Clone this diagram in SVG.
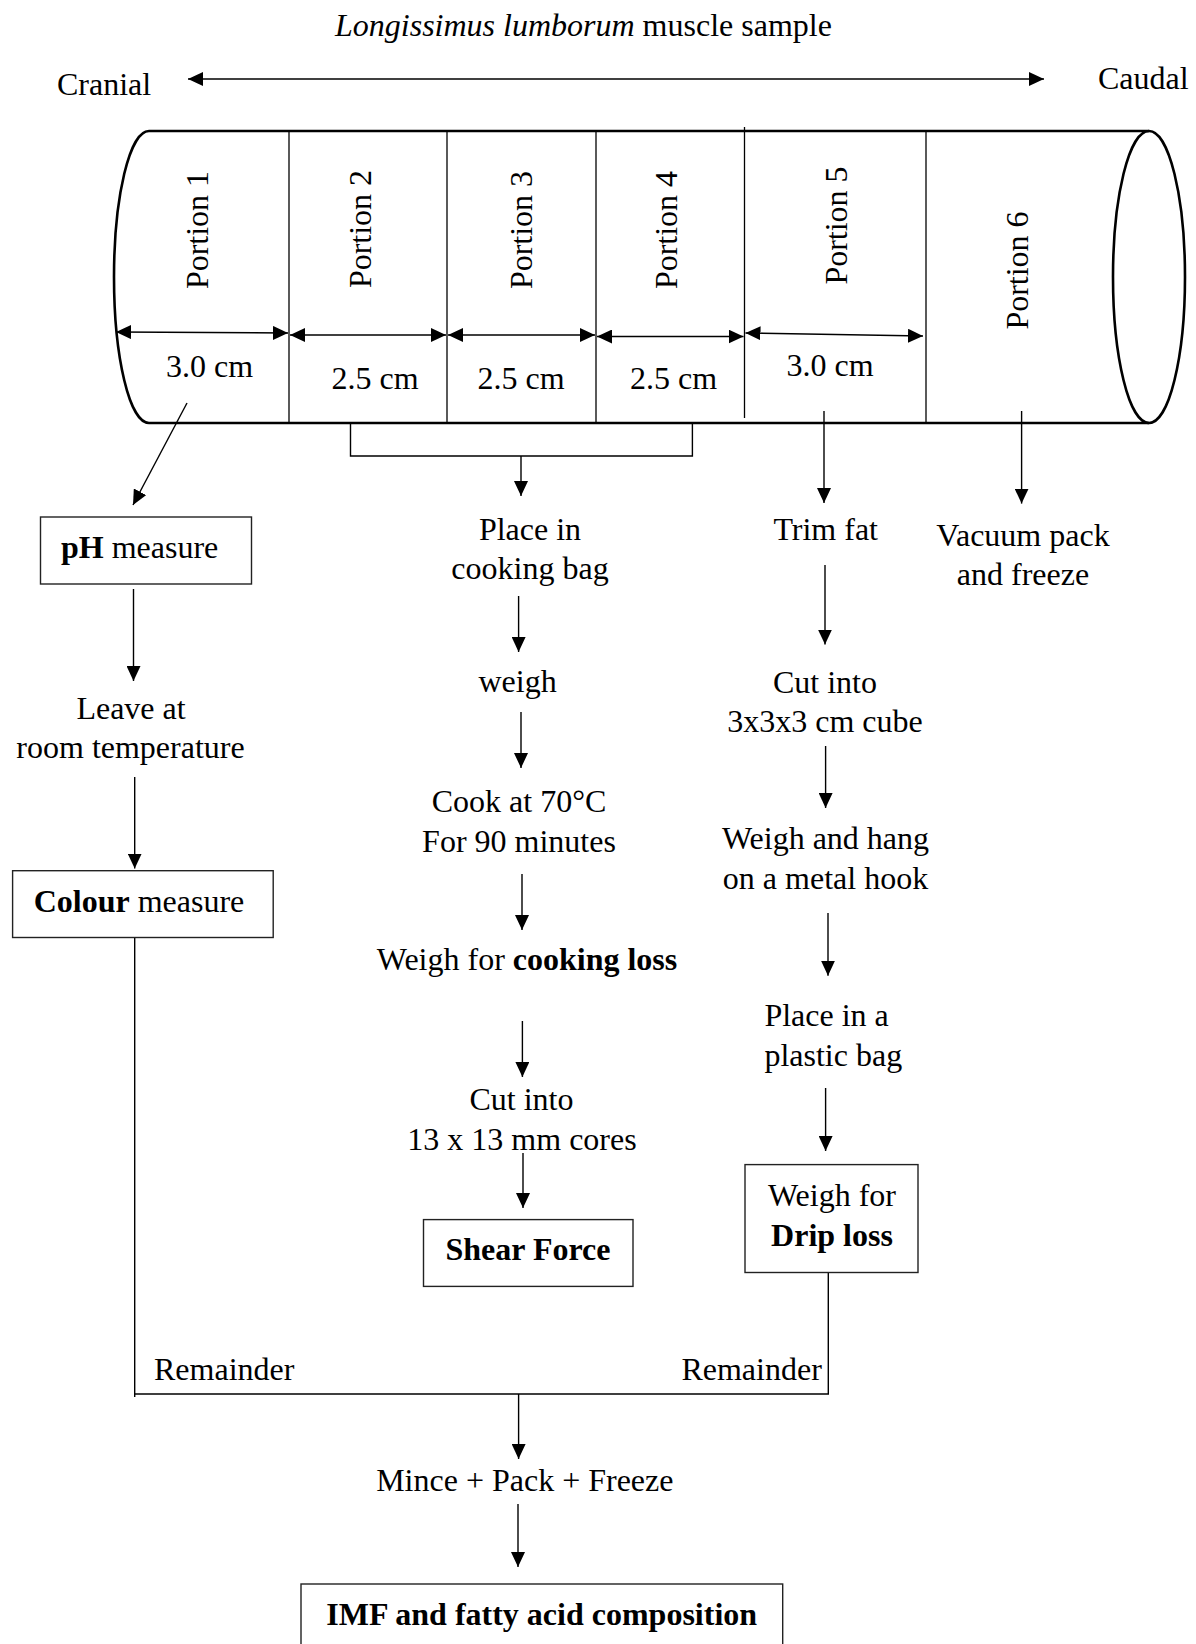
<svg xmlns="http://www.w3.org/2000/svg" width="1196" height="1644" viewBox="0 0 1196 1644">
<defs>
<style>
text{font-family:"Liberation Serif","Times New Roman",serif;font-size:32px;fill:#000}
.m{text-anchor:middle}
.e{text-anchor:end}
.b{font-weight:bold}
.i{font-style:italic}
.box{fill:#fff;stroke:#222;stroke-width:1.4}
.ln{fill:none;stroke:#000;stroke-width:1.4}
.ar{fill:none;stroke:#000;stroke-width:1.4;marker-end:url(#ah)}
.dim{fill:none;stroke:#000;stroke-width:1.6;marker-start:url(#ah);marker-end:url(#ah)}
.cyl{fill:none;stroke:#000;stroke-width:2.6}
.div{fill:none;stroke:#000;stroke-width:1.3}
</style>
<marker id="ah" markerUnits="userSpaceOnUse" viewBox="0 0 15 14" markerWidth="15" markerHeight="14" refX="15" refY="7" orient="auto-start-reverse">
<path d="M0,0 L15,7 L0,14 z" fill="#000"/>
</marker>
</defs>
<rect width="1196" height="1644" fill="#fff"/>

<g id="title">
<text x="335" y="36"><tspan class="i">Longissimus lumborum</tspan> muscle sample</text>
</g>
<g id="direction">
<text x="57" y="95">Cranial</text>
<text x="1098" y="89">Caudal</text>
<line class="dim" x1="188" y1="79" x2="1044" y2="79"/>
</g>

<g id="cylinder">
<path class="cyl" d="M1149,131 L149,131 A35,146 0 0 0 149,423 L1149,423"/>
<ellipse class="cyl" cx="1149" cy="277" rx="36" ry="146"/>
<line class="div" x1="289" y1="131" x2="289" y2="423"/>
<line class="div" x1="447" y1="131" x2="447" y2="423"/>
<line class="div" x1="596" y1="131" x2="596" y2="423"/>
<line class="div" x1="744.5" y1="127" x2="744.5" y2="418"/>
<line class="div" x1="926" y1="131" x2="926" y2="423"/>
</g>

<g id="portion1"><text class="m" transform="translate(208,230) rotate(-90)">Portion 1</text><line class="dim" x1="116" y1="332" x2="288" y2="333"/><text class="m" x="209.5" y="377">3.0 cm</text></g>
<g id="portion2"><text class="m" transform="translate(371,229) rotate(-90)">Portion 2</text><line class="dim" x1="290" y1="335" x2="446" y2="335"/><text class="m" x="375" y="389">2.5 cm</text></g>
<g id="portion3"><text class="m" transform="translate(532,230) rotate(-90)">Portion 3</text><line class="dim" x1="448" y1="335" x2="595" y2="335"/><text class="m" x="521" y="389">2.5 cm</text></g>
<g id="portion4"><text class="m" transform="translate(677,230) rotate(-90)">Portion 4</text><line class="dim" x1="597" y1="336.5" x2="743.5" y2="336.5"/><text class="m" x="673.5" y="389">2.5 cm</text></g>
<g id="portion5"><text class="m" transform="translate(846.5,225.5) rotate(-90)">Portion 5</text><line class="dim" x1="745.5" y1="333" x2="923" y2="336"/><text class="m" x="830" y="376">3.0 cm</text></g>
<g id="portion6"><text class="m" transform="translate(1027.5,270.5) rotate(-90)">Portion 6</text></g>

<g id="connectors">
<line class="ar" x1="187" y1="403" x2="133" y2="505"/>
<polyline class="ln" points="350.5,422 350.5,456 692.4,456 692.4,422"/>
<line class="ar" x1="521" y1="456" x2="521" y2="496"/>
<line class="ar" x1="824" y1="411" x2="824" y2="503"/>
<line class="ar" x1="1021.6" y1="411" x2="1021.6" y2="503.6"/>
<line class="ar" x1="133.5" y1="589" x2="133.5" y2="681"/>
<line class="ar" x1="134.7" y1="777" x2="134.7" y2="868.6"/>
<line class="ar" x1="518.6" y1="596" x2="518.6" y2="652"/>
<line class="ar" x1="521" y1="712" x2="521" y2="768"/>
<line class="ar" x1="522" y1="874" x2="522" y2="930"/>
<line class="ar" x1="522.4" y1="1021" x2="522.4" y2="1077"/>
<line class="ar" x1="523" y1="1153" x2="523" y2="1208"/>
<line class="ar" x1="825" y1="565" x2="825" y2="644.6"/>
<line class="ar" x1="825.6" y1="746" x2="825.6" y2="808"/>
<line class="ar" x1="828" y1="913" x2="828" y2="975.7"/>
<line class="ar" x1="825.6" y1="1088" x2="825.6" y2="1151"/>
<line class="ln" x1="134.7" y1="937.5" x2="134.7" y2="1397"/>
<polyline class="ln" points="134.7,1394 828.3,1394 828.3,1272.5"/>
<line class="ar" x1="518.6" y1="1394" x2="518.6" y2="1459"/>
<line class="ar" x1="518" y1="1504" x2="518" y2="1567"/>
</g>

<g id="ph"><rect class="box" x="40.5" y="517" width="211" height="67"/><text x="61" y="558"><tspan class="b">pH</tspan> measure</text></g>
<g id="leave"><text class="m" x="131" y="719">Leave at</text><text class="m" x="130.5" y="758">room temperature</text></g>
<g id="colour"><rect class="box" x="12.6" y="870.7" width="260.6" height="66.8"/><text x="33.7" y="911.5"><tspan class="b">Colour</tspan> measure</text></g>

<g id="cookbag"><text class="m" x="530" y="539.5">Place in</text><text class="m" x="530" y="579">cooking bag</text></g>
<g id="weigh"><text class="m" x="517.6" y="692">weigh</text></g>
<g id="cook"><text class="m" x="519" y="811.5">Cook at 70°C</text><text class="m" x="519" y="851.5">For 90 minutes</text></g>
<g id="cookloss"><text class="m" x="527" y="970">Weigh for <tspan class="b">cooking loss</tspan></text></g>
<g id="cores"><text class="m" x="521.5" y="1110">Cut into</text><text class="m" x="522" y="1150">13 x 13 mm cores</text></g>
<g id="shear"><rect class="box" x="423.5" y="1219.6" width="209.5" height="66.8"/><text class="m b" x="528" y="1260">Shear Force</text></g>

<g id="trim"><text class="m" x="825.7" y="540">Trim fat</text></g>
<g id="vacuum"><text class="m" x="1023" y="545.5">Vacuum pack</text><text class="m" x="1023" y="585">and freeze</text></g>
<g id="cube"><text class="m" x="825" y="693">Cut into</text><text class="m" x="825" y="732">3x3x3 cm cube</text></g>
<g id="hang"><text class="m" x="825.5" y="848.5">Weigh and hang</text><text class="m" x="825.5" y="888.5">on a metal hook</text></g>
<g id="plastic"><text x="764.4" y="1026">Place in a</text><text x="764.4" y="1066">plastic bag</text></g>
<g id="drip"><rect class="box" x="745" y="1164.6" width="173" height="107.9"/><text class="m" x="832" y="1205.5">Weigh for</text><text class="m b" x="832" y="1245.5">Drip loss</text></g>

<g id="remainder-left"><text x="154" y="1379.5">Remainder</text></g>
<g id="remainder-right"><text class="e" x="821.8" y="1379.5">Remainder</text></g>
<g id="mince"><text class="m" x="524.8" y="1491">Mince + Pack + Freeze</text></g>
<g id="imf"><rect class="box" x="301" y="1584" width="481.7" height="70"/><text class="m b" x="541.7" y="1625">IMF and fatty acid composition</text></g>
</svg>
